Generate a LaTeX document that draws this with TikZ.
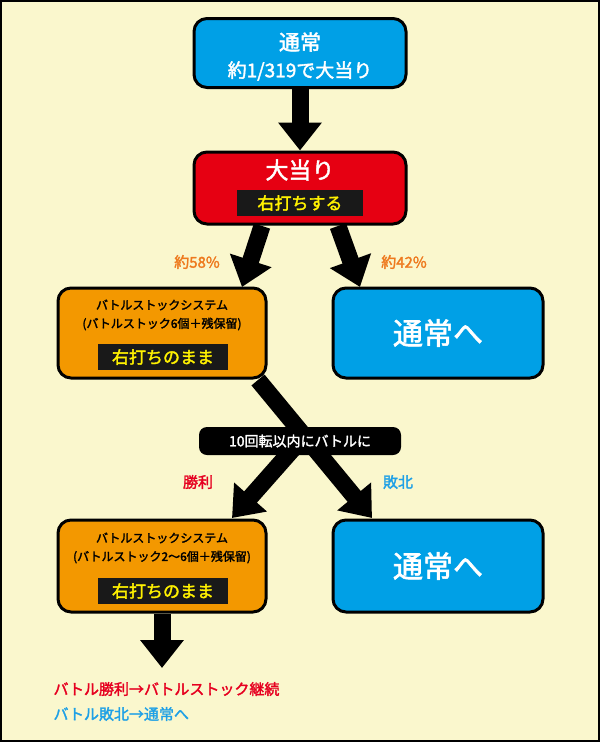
\documentclass[tikz,border=0pt]{standalone}
\usepackage{fontspec}
\setmainfont{Noto Sans CJK JP}[AutoFakeBold=2]
\usetikzlibrary{arrows.meta}
\definecolor{bg}{HTML}{FAF7CD}
\definecolor{cblue}{HTML}{00A0E6}
\definecolor{cred}{HTML}{E60012}
\definecolor{corange}{HTML}{F39800}
\definecolor{ctxt}{HTML}{EE7A1E}
\definecolor{cyel}{HTML}{FFF100}
\definecolor{vred}{HTML}{E60020}
\definecolor{vblue}{HTML}{1EA0E6}
\begin{document}
\begin{tikzpicture}[x=1pt,y=-1pt,
 box/.style={draw=black,line width=3pt,rounded corners=13pt,inner sep=0pt},
 band/.style={fill=black!90,text=cyel,font=\bfseries\fontsize{17}{17}\selectfont,inner sep=0pt,minimum height=26pt},
 arr/.style={line width=17pt,-{Triangle[width=42pt,length=28pt]}},
 lab/.style={font=\bfseries\fontsize{15}{15}\selectfont}]
\fill[bg] (0,0) rectangle (600,742);
\draw[line width=2pt] (1,1) rectangle (599,741);
% top
\node[box,fill=cblue,minimum width=212pt,minimum height=69pt] (n1) at (300,53) {};
\node[text=white,font=\bfseries\fontsize{21}{21}\selectfont] (n1a) at (300,42) {通常};
\node[text=white,font=\bfseries\fontsize{19}{19}\selectfont] (n1b) at (300,71) {約1/319で大当り};
% red
\node[box,fill=cred,minimum width=212pt,minimum height=72pt] (n2) at (300,188) {};
\node[text=white,font=\bfseries\fontsize{23}{23}\selectfont] (n2a) at (300,170) {大当り};
\node[band,minimum width=126pt] (n2b) at (300,203) {右打ちする};
\draw[arr] (n1.south) -- (n2.north);
% level 2
\node[box,fill=corange,minimum width=208pt,minimum height=90pt] (n3) at (162,333) {};
\node[font=\bfseries\fontsize{12}{12}\selectfont] (n3a) at (162,305) {バトルストックシステム};
\node[font=\bfseries\fontsize{12}{12}\selectfont] (n3b) at (162,324) {(バトルストック6個＋残保留)};
\node[band,minimum width=130pt] (n3c) at (163,357) {右打ちのまま};
\node[box,fill=cblue,minimum width=210pt,minimum height=90pt,text=white,font=\bfseries\fontsize{30}{30}\selectfont] (n4) at (438,333) {通常へ};
\coordinate (r1) at (262,226);
\coordinate (r2) at (338,226);
\draw[arr] (r1) -- (242,287);
\draw[arr] (r2) -- (360,287);
\node[lab,text=ctxt] (p1) at (197,262) {約58\%};
\node[lab,text=ctxt] (p2) at (404,262) {約42\%};
% level 3
\node[box,fill=corange,minimum width=208pt,minimum height=92pt] (n5) at (162,566) {};
\node[font=\bfseries\fontsize{12}{12}\selectfont] (n5a) at (162,538) {バトルストックシステム};
\node[font=\bfseries\fontsize{12}{12}\selectfont] (n5b) at (162,557) {(バトルストック2〜6個＋残保留)};
\node[band,minimum width=130pt] (n5c) at (163,591) {右打ちのまま};
\node[box,fill=cblue,minimum width=210pt,minimum height=92pt,text=white,font=\bfseries\fontsize{30}{30}\selectfont] (n6) at (438,566) {通常へ};
\coordinate (d1) at (258,380);
\draw[arr] (d1) -- (372,518);
\draw[arr] (300,441) -- (232,518);
\node[fill=black,text=white,rounded corners=8pt,minimum width=202pt,minimum height=28pt,inner sep=0pt,font=\bfseries\fontsize{14}{14}\selectfont] (lb) at (300,441) {10回転以内にバトルに};
\node[lab,text=vred] (w) at (198,482) {勝利};
\node[lab,text=vblue] (l) at (398,482) {敗北};
\draw[arr] (n5.south -| 162,0) -- (162,668);
\node[lab,text=vred,anchor=west] (t1) at (50,689) {バトル勝利→バトルストック継続};
\node[lab,text=vblue,anchor=west] (t2) at (50,714) {バトル敗北→通常へ};
\end{tikzpicture}
\end{document}
